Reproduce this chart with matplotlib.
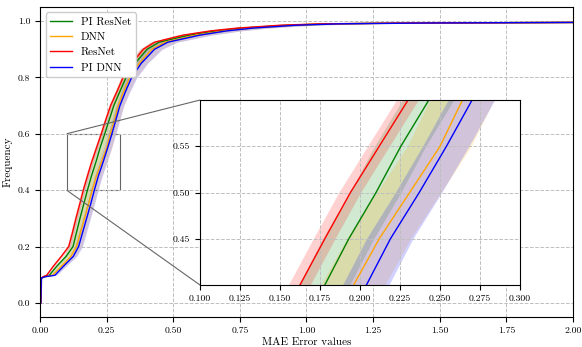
import matplotlib
matplotlib.use("Agg")
import matplotlib.pyplot as plt
from mpl_toolkits.axes_grid1.inset_locator import mark_inset

plt.rcParams['font.family'] = 'serif'
plt.rcParams['font.serif'] = ['cmr10', 'DejaVu Serif']
plt.rcParams['mathtext.fontset'] = 'cm'
plt.rcParams['axes.unicode_minus'] = False
plt.rcParams['axes.formatter.use_mathtext'] = True

# Datos: frecuencia acumulada y valor de error para cada modelo
freq = [0.0, 0.088, 0.093, 0.098, 0.13, 0.165, 0.2, 0.25, 0.3, 0.35, 0.4, 0.45, 0.5, 0.55, 0.6,
        0.65, 0.7, 0.75, 0.8, 0.85, 0.9, 0.925, 0.95, 0.965, 0.975, 0.985, 0.99, 0.993, 0.995]

pi_resnet = [0.003, 0.005, 0.015, 0.035, 0.063, 0.098, 0.124, 0.137, 0.150, 0.164, 0.178, 0.193, 0.210,
             0.2255, 0.243, 0.260, 0.277, 0.300, 0.323, 0.357, 0.402, 0.447, 0.56, 0.66, 0.76, 0.92,
             1.08, 1.35, 2.0]
dnn = [0.003, 0.005, 0.018, 0.047, 0.080, 0.116, 0.137, 0.152, 0.167, 0.182, 0.196, 0.212, 0.231,
       0.250, 0.264, 0.280, 0.294, 0.314, 0.337, 0.372, 0.42, 0.47, 0.585, 0.69, 0.79, 0.95,
       1.1, 1.42, 2.0]
resnet = [0.003, 0.005, 0.012, 0.025, 0.05, 0.08, 0.108, 0.122, 0.135, 0.149, 0.1625, 0.178, 0.194,
          0.212, 0.230, 0.247, 0.265, 0.289, 0.312, 0.345, 0.388, 0.43, 0.537, 0.64, 0.74, 0.9,
          1.05, 1.4, 2.0]
pi_dnn = [0.003, 0.005, 0.02, 0.056, 0.088, 0.125, 0.145, 0.160, 0.175, 0.19, 0.204, 0.219, 0.237,
          0.254, 0.270, 0.285, 0.30, 0.321, 0.344, 0.38, 0.43, 0.48, 0.60, 0.70, 0.8, 0.96,
          1.12, 1.45, 2.0]

# desviacion (ancho de banda en x)
std_pi_resnet = [0.001, 0.002, 0.004, 0.006, 0.008, 0.010] + [0.016] * 11 + \
    [0.017, 0.019, 0.022, 0.026, 0.03, 0.04, 0.045, 0.05, 0.06, 0.07, 0.08, 0.08]
std_dnn = [0.001, 0.002, 0.005, 0.009, 0.014, 0.017] + [0.02] * 11 + \
    [0.022, 0.025, 0.03, 0.036, 0.043, 0.055, 0.065, 0.07, 0.08, 0.09, 0.1, 0.1]
std_resnet = [0.001, 0.002, 0.003, 0.004, 0.005, 0.006] + [0.0068] * 11 + \
    [0.008, 0.009, 0.011, 0.014, 0.017, 0.025, 0.03, 0.035, 0.045, 0.05, 0.06, 0.06]
std_pi_dnn = [0.001, 0.002, 0.004, 0.007, 0.01, 0.013] + [0.0145] * 11 + \
    [0.017, 0.02, 0.024, 0.029, 0.035, 0.045, 0.055, 0.06, 0.07, 0.08, 0.09, 0.09]

series = [
    ("PI ResNet", pi_resnet, std_pi_resnet, "green"),
    ("DNN", dnn, std_dnn, "orange"),
    ("ResNet", resnet, std_resnet, "red"),
    ("PI DNN", pi_dnn, std_pi_dnn, "blue"),
]

fig = plt.figure(figsize=(5.82, 3.47), dpi=100)
ax = fig.add_axes([0.0687, 0.0865, 0.9158, 0.8935])
axin = fig.add_axes([0.3436, 0.1787, 0.55, 0.533])

for a in (ax, axin):
    for name, xs, sd, c in series:
        lo = [x - s for x, s in zip(xs, sd)]
        hi = [x + s for x, s in zip(xs, sd)]
        a.fill_betweenx(freq, lo, hi, color=c, alpha=0.18, linewidth=0)
        a.plot(xs, freq, color=c, linewidth=1.0, label=name)
    a.grid(True, linestyle='--', color='0.75', linewidth=0.7)

ax.set_xlim(0, 2.0)
ax.set_ylim(-0.05, 1.05)
ax.set_xticks([0, 0.25, 0.5, 0.75, 1.0, 1.25, 1.5, 1.75, 2.0])
ax.set_xticklabels(["0.00", "0.25", "0.50", "0.75", "1.00", "1.25", "1.50", "1.75", "2.00"])
ax.set_yticks([0, 0.2, 0.4, 0.6, 0.8, 1.0])
ax.set_yticklabels(["0.0", "0.2", "0.4", "0.6", "0.8", "1.0"])
ax.tick_params(labelsize=7)
ax.set_xlabel("MAE Error values", fontsize=8, labelpad=2)
ax.set_ylabel("Frequency", fontsize=8)
ax.legend(loc='upper left', fontsize=8, framealpha=1, edgecolor='0.8')

axin.set_xlim(0.1, 0.3)
axin.set_ylim(0.4, 0.6)
axin.set_xticks([0.1, 0.125, 0.15, 0.175, 0.2, 0.225, 0.25, 0.275, 0.3])
axin.set_xticklabels(["0.100", "0.125", "0.150", "0.175", "0.200", "0.225", "0.250", "0.275", "0.300"])
axin.set_yticks([0.45, 0.5, 0.55])
axin.set_yticklabels(["0.45", "0.50", "0.55"])
axin.tick_params(labelsize=7)

mark_inset(ax, axin, loc1=2, loc2=3, fc="none", ec="0.4", lw=0.8)

fig.savefig("out.png", dpi=100)
